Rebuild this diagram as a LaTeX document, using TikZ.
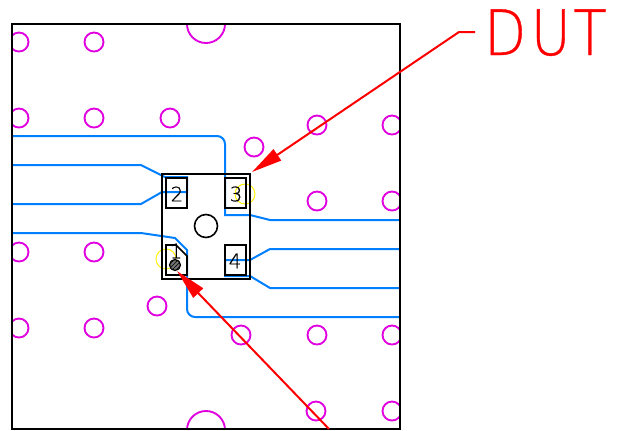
\documentclass[tikz,border=0pt]{standalone}
\usepackage{fontspec}
\usetikzlibrary{arrows.meta,patterns}
\newfontfamily\thinfont[FakeBold=0.6]{DejaVu Sans ExtraLight}
\definecolor{trace}{RGB}{0,128,255}
\definecolor{via}{RGB}{224,0,224}
\definecolor{lead}{RGB}{255,0,0}
\tikzset{
  x=0.75pt,y=-0.75pt,
  frame/.style={black,line width=1.2pt},
  padbox/.style={black,line width=1.2pt},
  viahole/.style={via,line width=1.4pt},
  tracewire/.style={trace,line width=1.5pt},
  halo/.style={yellow,line width=0.7pt},
  leader/.style={lead,line width=1.5pt,-{Triangle[length=23pt,width=10pt,fill=lead]}},
  padnum/.style={font=\thinfont\fontsize{15}{15}\selectfont,text=black,inner sep=0pt},
}
\begin{document}
\begin{tikzpicture}
\useasboundingbox (0,0) rectangle (619,430);
\fill[white] (0,0) rectangle (619,430);
% vias, clipped by the board outline
\begin{scope}
\clip (12,24) rectangle (400,429);
\foreach \p in {(19,42),(94,42),(19,118),(94,118),(170,118),(254,147),(317,125),(392,125),(317,201),(392,201),(19,252),(94,252),(19,328),(94,328),(157,306),(241,335),(317,335),(392,335),(316,411),(392,411)}
  \draw[viahole] \p circle[radius=9.5];
\draw[viahole] (206,24) circle[radius=19];
\draw[viahole] (206,430) circle[radius=19];
\end{scope}
% yellow halos
\draw[halo] (245,194) circle[radius=10];
\draw[halo] (166,259) circle[radius=10];
% traces
\draw[tracewire] (12,136) -- (217,136) arc[start angle=-90,end angle=0,radius=8] -- (225,215) -- (250,215) -- (270,220) -- (400,220);
\draw[tracewire] (12,165) -- (141,165) -- (165,177) -- (187,177) -- (187,192) -- (162,192) -- (141,204) -- (12,204);
\draw[tracewire] (12,233) -- (141,233) -- (175,238) -- (187,250) -- (187,309) arc[start angle=180,end angle=90,radius=8] -- (400,317);
\draw[tracewire] (400,249) -- (270,249) -- (250,260) -- (225,260) -- (225,276) -- (250,276) -- (270,288) -- (400,288);
% board and package
\draw[frame] (12,24) rectangle (400,429);
\draw[frame] (162,174) rectangle (250,279);
\draw[padbox] (166,178) rectangle (187,208);
\draw[padbox] (225,178) rectangle (246,208);
\draw[padbox] (225,245) rectangle (246,275);
\draw[padbox] (166,245) -- (176,245) -- (187,256) -- (187,275) -- (166,275) -- cycle;
\draw[padbox] (206,226) circle[radius=11.5];
\fill[black!55] (175,265) circle[radius=5.5];
\draw[black,line width=0.9pt,pattern=north east lines,pattern color=black] (175,265) circle[radius=5.5];
% pad numbers
\node[padnum] (p2) at (177,194) {2};
\node[padnum] (p3) at (236,194) {3};
\node[padnum] (p4) at (235,261) {4};
\node[padnum] (p1) at (176,251) {1};
% DUT label and leaders
\node[anchor=base west,inner sep=0pt,text=lead,font=\thinfont\fontsize{47}{47}\selectfont] (dut) at (484,55) {\scalebox{0.87}[1]{D\kern4ptU\kern2.2ptT}};
\coordinate (dutend) at (475,32);
\coordinate (dutbend) at (459,32);
\coordinate (duttip) at (252,172);
\coordinate (pinstart) at (329,429);
\coordinate (pintip) at (177,271);
\draw[leader] (dutend) -- (dutbend) -- (duttip);
\draw[leader] (pinstart) -- (pintip);
\end{tikzpicture}
\end{document}
